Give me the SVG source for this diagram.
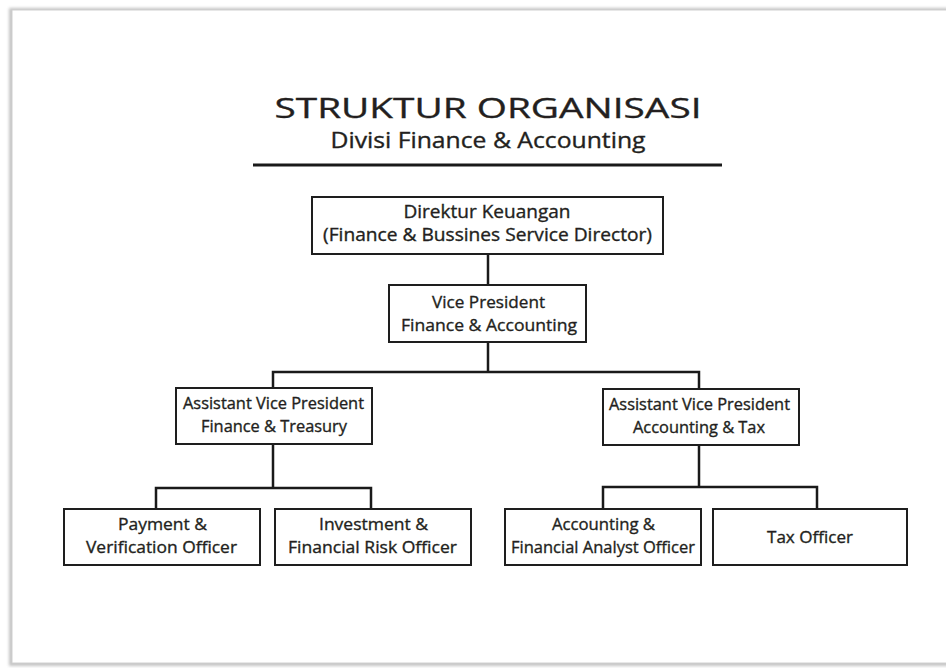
<svg xmlns="http://www.w3.org/2000/svg" width="946" height="668" viewBox="0 0 946 668">
<style>
  .box { fill: #ffffff; stroke: #1e1e1e; stroke-width: 2; }
  .t { font-family: "Open Sans", "Noto Sans", "Liberation Sans", sans-serif; fill: #231f20; text-anchor: middle; stroke: #231f20; stroke-width: 0.35; }
  .conn { fill: none; stroke: #1a1a1a; stroke-width: 2.5; }
</style>
<defs>
  <filter id="pageShadow" x="-5%" y="-5%" width="110%" height="110%">
    <feGaussianBlur stdDeviation="1.5"/>
  </filter>
</defs>
<rect x="0" y="0" width="946" height="668" fill="#ffffff"/>
<g id="page">
  <rect x="9" y="8" width="960" height="658" fill="#c4c4c4" filter="url(#pageShadow)"/>
  <rect x="12" y="10" width="960" height="653" fill="#ffffff" stroke="#d0d0d0" stroke-width="1"/>
</g>
<g id="title">
  <text class="t" x="488" y="118" font-size="28" textLength="427" lengthAdjust="spacingAndGlyphs">STRUKTUR ORGANISASI</text>
  <text class="t" x="488" y="148" font-size="21" textLength="315" lengthAdjust="spacingAndGlyphs">Divisi Finance &amp; Accounting</text>
  <line x1="253" y1="165" x2="722" y2="165" stroke="#1a1a1a" stroke-width="3"/>
</g>
<g id="connectors">
  <path class="conn" d="M488 254 V285"/>
  <path class="conn" d="M488 342 V372 M273 388 V372 H699 V389"/>
  <path class="conn" d="M273 444 V488 M156 509 V488 H371 V509"/>
  <path class="conn" d="M699 445 V487 M603 509 V487 H817 V509"/>
</g>
<g id="director">
  <rect class="box" x="312" y="197" width="351" height="57"/>
  <text class="t" x="487" y="218" font-size="18" textLength="167" lengthAdjust="spacingAndGlyphs">Direktur Keuangan</text>
  <text class="t" x="487.5" y="241" font-size="18" textLength="329" lengthAdjust="spacingAndGlyphs">(Finance &amp; Bussines Service Director)</text>
</g>
<g id="vp">
  <rect class="box" x="389" y="285" width="197" height="57"/>
  <text class="t" x="488.5" y="308" font-size="17" textLength="113" lengthAdjust="spacingAndGlyphs">Vice President</text>
  <text class="t" x="489" y="331" font-size="17" textLength="176" lengthAdjust="spacingAndGlyphs">Finance &amp; Accounting</text>
</g>
<g id="avp-ft">
  <rect class="box" x="176" y="388" width="196" height="56"/>
  <text class="t" x="273.5" y="409" font-size="16" textLength="181" lengthAdjust="spacingAndGlyphs">Assistant Vice President</text>
  <text class="t" x="274" y="432" font-size="16" textLength="146" lengthAdjust="spacingAndGlyphs">Finance &amp; Treasury</text>
</g>
<g id="avp-at">
  <rect class="box" x="603" y="389" width="196" height="56"/>
  <text class="t" x="699.5" y="410" font-size="16" textLength="181" lengthAdjust="spacingAndGlyphs">Assistant Vice President</text>
  <text class="t" x="699" y="433" font-size="16" textLength="132" lengthAdjust="spacingAndGlyphs">Accounting &amp; Tax</text>
</g>
<g id="payment">
  <rect class="box" x="64" y="509" width="196" height="56"/>
  <text class="t" x="162.5" y="530" font-size="17" textLength="89" lengthAdjust="spacingAndGlyphs">Payment &amp;</text>
  <text class="t" x="161.5" y="553" font-size="17" textLength="151" lengthAdjust="spacingAndGlyphs">Verification Officer</text>
</g>
<g id="investment">
  <rect class="box" x="275" y="509" width="196" height="56"/>
  <text class="t" x="373.5" y="530" font-size="17" textLength="109" lengthAdjust="spacingAndGlyphs">Investment &amp;</text>
  <text class="t" x="372.5" y="553" font-size="17" textLength="169" lengthAdjust="spacingAndGlyphs">Financial Risk Officer</text>
</g>
<g id="accounting">
  <rect class="box" x="505" y="509" width="196" height="56"/>
  <text class="t" x="603.5" y="530" font-size="17" textLength="103" lengthAdjust="spacingAndGlyphs">Accounting &amp;</text>
  <text class="t" x="603" y="553" font-size="17" textLength="184" lengthAdjust="spacingAndGlyphs">Financial Analyst Officer</text>
</g>
<g id="tax">
  <rect class="box" x="713" y="509" width="194" height="56"/>
  <text class="t" x="810" y="543" font-size="17" textLength="86" lengthAdjust="spacingAndGlyphs">Tax Officer</text>
</g>
</svg>
